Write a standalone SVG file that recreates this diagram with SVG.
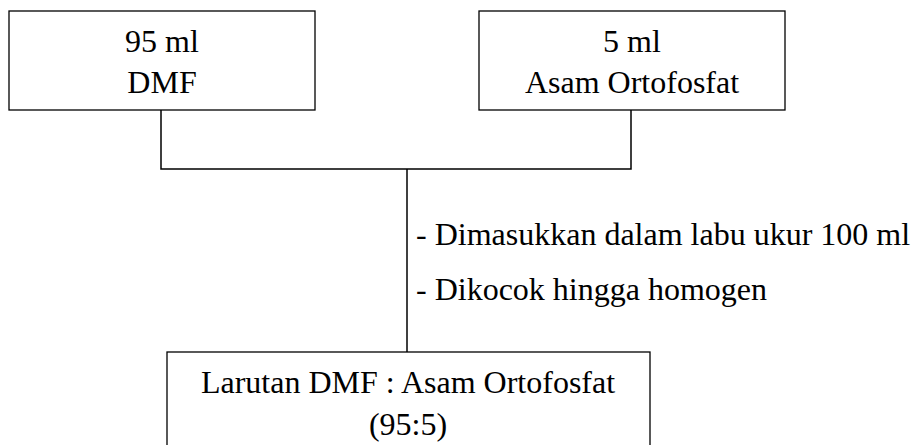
<svg xmlns="http://www.w3.org/2000/svg" width="916" height="445" viewBox="0 0 916 445">
<style>
.box{fill:#fff;stroke:#000;stroke-width:1.3}
.ln{fill:none;stroke:#000;stroke-width:1.5}
</style>
<rect width="916" height="445" fill="#fff"/>
<g id="connectors">
<polyline class="ln" points="161,110 161,169 631,169 631,110"/>
<line class="ln" x1="407" y1="169" x2="407" y2="352"/>
</g>
<g font-family="'Liberation Serif', 'Times New Roman', serif" font-size="32" fill="#000">
<g id="dmf">
<rect class="box" x="9" y="11" width="306" height="99"/>
<text text-anchor="middle" x="162" y="52">95 ml</text>
<text text-anchor="middle" x="162" y="93">DMF</text>
</g>
<g id="asam">
<rect class="box" x="479" y="11" width="306" height="99"/>
<text text-anchor="middle" x="632" y="52">5 ml</text>
<text text-anchor="middle" x="632" y="93">Asam Ortofosfat</text>
</g>
<g id="steps">
<text x="416" y="245">- Dimasukkan dalam labu ukur 100 ml</text>
<text x="416" y="300">- Dikocok hingga homogen</text>
</g>
<g id="larutan">
<rect class="box" x="167" y="352" width="483" height="110"/>
<text text-anchor="middle" x="408" y="393">Larutan DMF : Asam Ortofosfat</text>
<text text-anchor="middle" x="408" y="435">(95:5)</text>
</g>
</g>
</svg>
